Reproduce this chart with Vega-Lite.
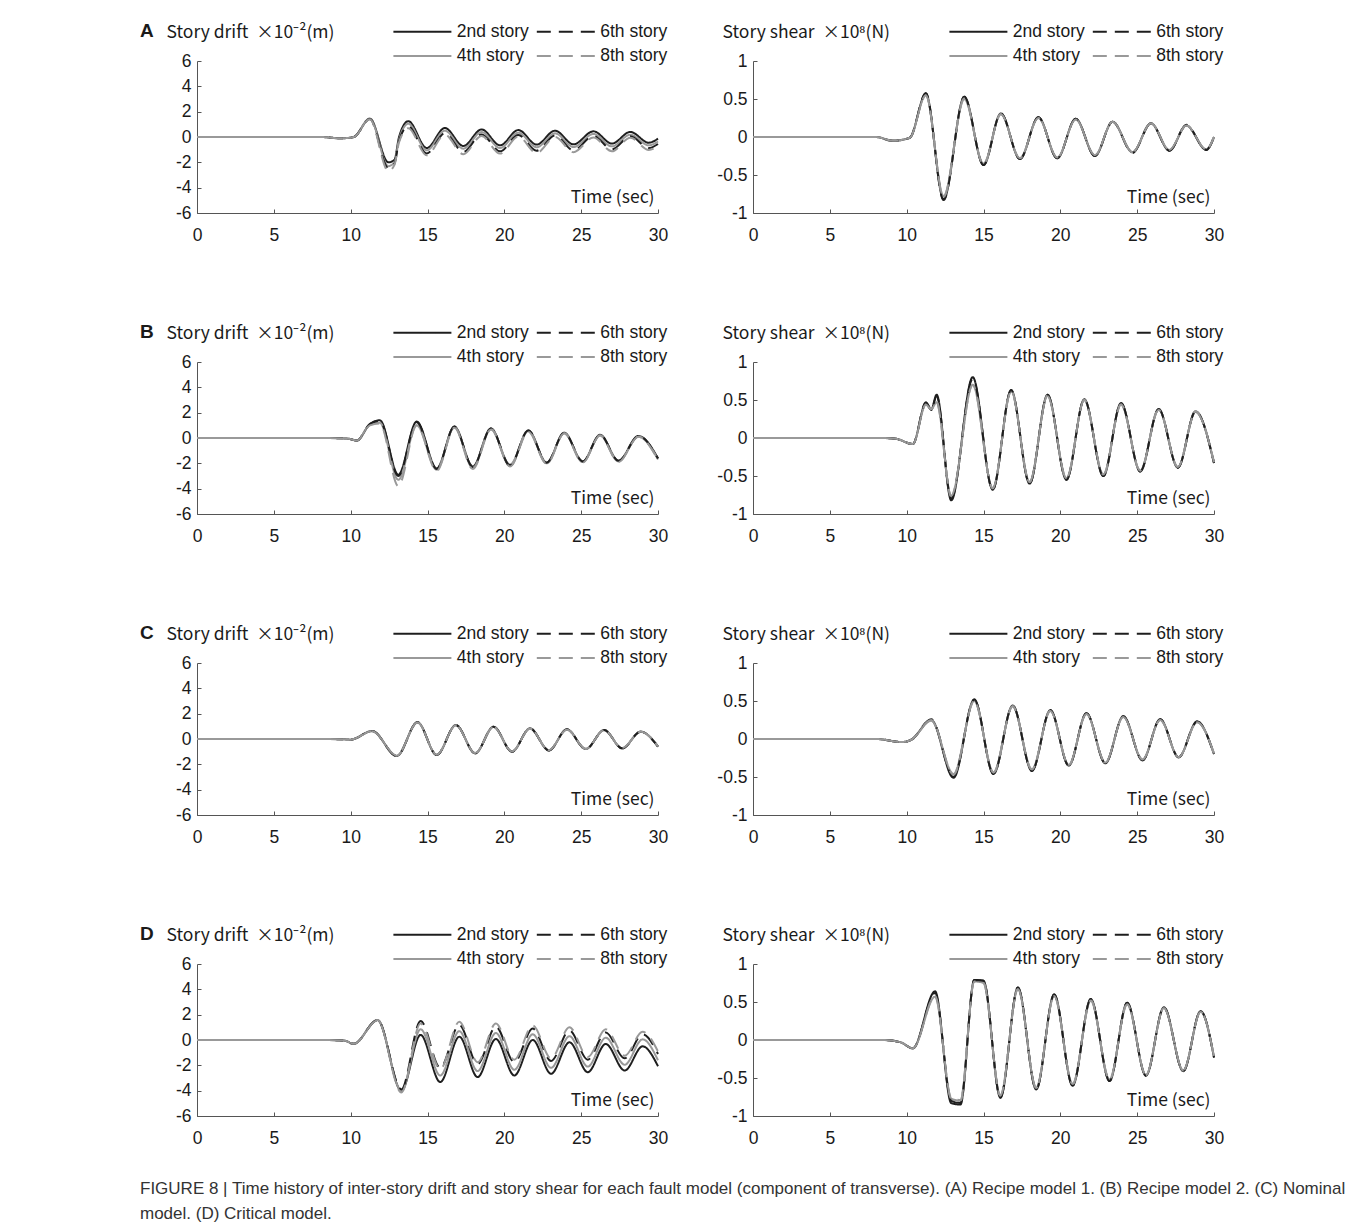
{
  "$schema": "https://vega.github.io/schema/vega-lite/v6.json",
  "background": "white",
  "autosize": {"type": "pad"},
  "padding": {"left": 140, "top": 18, "right": 4, "bottom": 4},
  "title": {
    "text": ["FIGURE 8 | Time history of inter-story drift and story shear for each fault model (component of transverse). (A) Recipe model 1. (B) Recipe model 2. (C) Nominal", "model. (D) Critical model."],
    "orient": "bottom", "anchor": "start", "frame": "bounds", "dx": 0, "dy": 0, "offset": 34,
    "font": "Liberation Sans", "fontSize": 17, "fontWeight": "normal", "color": "#333333", "lineHeight": 25, "baseline": "top"
  },
  "datasets": {
    "A1": [
      {"t":0,"2nd story":0,"4th story":0,"6th story":0,"8th story":0},
      {"t":5,"2nd story":0,"4th story":0,"6th story":0,"8th story":0},
      {"t":8,"2nd story":0,"4th story":0,"6th story":0,"8th story":0},
      {"t":9.4,"2nd story":-0.1,"4th story":-0.1,"6th story":-0.1,"8th story":-0.1},
      {"t":10.2,"2nd story":0,"4th story":0,"6th story":0,"8th story":0},
      {"t":11.25,"2nd story":1.45,"4th story":1.45,"6th story":1.42,"8th story":1.4},
      {"t":12.45,"2nd story":-2.0,"4th story":-2.3,"6th story":-2.45,"8th story":-2.7},
      {"t":12.85,"2nd story":-1.8,"4th story":-2.0,"6th story":-2.1,"8th story":-2.2},
      {"t":13.15,"2nd story":0,"4th story":-0.2,"6th story":-0.3,"8th story":-0.4},
      {"t":13.75,"2nd story":1.25,"4th story":1.05,"6th story":0.85,"8th story":0.7},
      {"t":14.95,"2nd story":-0.87,"4th story":-1.05,"6th story":-1.3,"8th story":-1.45},
      {"t":16.13,"2nd story":0.71,"4th story":0.5,"6th story":0.3,"8th story":0.18},
      {"t":17.33,"2nd story":-0.71,"4th story":-0.92,"6th story":-1.18,"8th story":-1.36},
      {"t":18.52,"2nd story":0.6,"4th story":0.39,"6th story":0.2,"8th story":0.08},
      {"t":19.72,"2nd story":-0.66,"4th story":-0.87,"6th story":-1.13,"8th story":-1.31},
      {"t":20.91,"2nd story":0.55,"4th story":0.34,"6th story":0.16,"8th story":0.03},
      {"t":22.1,"2nd story":-0.6,"4th story":-0.81,"6th story":-1.08,"8th story":-1.26},
      {"t":23.3,"2nd story":0.5,"4th story":0.29,"6th story":0.13,"8th story":0.0},
      {"t":24.5,"2nd story":-0.58,"4th story":-0.79,"6th story":-1.05,"8th story":-1.2},
      {"t":25.8,"2nd story":0.45,"4th story":0.24,"6th story":0.08,"8th story":-0.03},
      {"t":27.0,"2nd story":-0.52,"4th story":-0.74,"6th story":-0.97,"8th story":-1.13},
      {"t":28.2,"2nd story":0.4,"4th story":0.18,"6th story":0.05,"8th story":-0.05},
      {"t":29.4,"2nd story":-0.45,"4th story":-0.66,"6th story":-0.87,"8th story":-1.02},
      {"t":30,"2nd story":-0.13,"4th story":-0.35,"6th story":-0.55,"8th story":-0.7}
    ],
    "A2": [
      {"t":0,"2nd story":0,"4th story":0,"6th story":0,"8th story":0},
      {"t":5,"2nd story":0,"4th story":0,"6th story":0,"8th story":0},
      {"t":8,"2nd story":0,"4th story":0,"6th story":0,"8th story":0},
      {"t":9.1,"2nd story":-0.05,"4th story":-0.05,"6th story":-0.05,"8th story":-0.05},
      {"t":10.2,"2nd story":-0.01,"4th story":-0.01,"6th story":-0.01,"8th story":-0.01},
      {"t":11.25,"2nd story":0.57,"4th story":0.55,"6th story":0.58,"8th story":0.55},
      {"t":12.4,"2nd story":-0.82,"4th story":-0.78,"6th story":-0.83,"8th story":-0.79},
      {"t":13.75,"2nd story":0.53,"4th story":0.5,"6th story":0.53,"8th story":0.51},
      {"t":15.0,"2nd story":-0.37,"4th story":-0.35,"6th story":-0.37,"8th story":-0.36},
      {"t":16.13,"2nd story":0.31,"4th story":0.3,"6th story":0.31,"8th story":0.3},
      {"t":17.37,"2nd story":-0.29,"4th story":-0.28,"6th story":-0.29,"8th story":-0.28},
      {"t":18.57,"2nd story":0.26,"4th story":0.25,"6th story":0.26,"8th story":0.25},
      {"t":19.8,"2nd story":-0.28,"4th story":-0.27,"6th story":-0.28,"8th story":-0.27},
      {"t":21.0,"2nd story":0.24,"4th story":0.23,"6th story":0.24,"8th story":0.23},
      {"t":22.25,"2nd story":-0.25,"4th story":-0.24,"6th story":-0.25,"8th story":-0.24},
      {"t":23.4,"2nd story":0.2,"4th story":0.2,"6th story":0.2,"8th story":0.2},
      {"t":24.7,"2nd story":-0.2,"4th story":-0.2,"6th story":-0.21,"8th story":-0.2},
      {"t":25.9,"2nd story":0.18,"4th story":0.18,"6th story":0.18,"8th story":0.18},
      {"t":27.1,"2nd story":-0.18,"4th story":-0.17,"6th story":-0.18,"8th story":-0.17},
      {"t":28.2,"2nd story":0.15,"4th story":0.15,"6th story":0.16,"8th story":0.15},
      {"t":29.5,"2nd story":-0.17,"4th story":-0.16,"6th story":-0.17,"8th story":-0.16},
      {"t":30,"2nd story":0,"4th story":0,"6th story":0,"8th story":0}
    ],
    "B1": [
      {"t":0,"2nd story":0,"4th story":0,"6th story":0,"8th story":0},
      {"t":5,"2nd story":0,"4th story":0,"6th story":0,"8th story":0},
      {"t":8.5,"2nd story":0,"4th story":0,"6th story":0,"8th story":0},
      {"t":9.8,"2nd story":-0.05,"4th story":-0.05,"6th story":-0.05,"8th story":-0.05},
      {"t":10.4,"2nd story":-0.2,"4th story":-0.2,"6th story":-0.2,"8th story":-0.2},
      {"t":11.25,"2nd story":1.1,"4th story":1.05,"6th story":1.1,"8th story":1.0},
      {"t":11.9,"2nd story":1.4,"4th story":1.2,"6th story":1.35,"8th story":1.15},
      {"t":13.1,"2nd story":-2.9,"4th story":-3.3,"6th story":-3.0,"8th story":-3.8},
      {"t":14.3,"2nd story":1.3,"4th story":1.0,"6th story":1.25,"8th story":1.0},
      {"t":15.6,"2nd story":-2.4,"4th story":-2.5,"6th story":-2.45,"8th story":-2.6},
      {"t":16.75,"2nd story":0.9,"4th story":0.85,"6th story":0.9,"8th story":0.8},
      {"t":17.95,"2nd story":-2.25,"4th story":-2.35,"6th story":-2.3,"8th story":-2.45},
      {"t":19.13,"2nd story":0.76,"4th story":0.7,"6th story":0.75,"8th story":0.68},
      {"t":20.37,"2nd story":-2.2,"4th story":-2.1,"6th story":-2.15,"8th story":-2.25},
      {"t":21.56,"2nd story":0.6,"4th story":0.55,"6th story":0.6,"8th story":0.5},
      {"t":22.76,"2nd story":-1.95,"4th story":-2.0,"6th story":-1.95,"8th story":-2.05},
      {"t":23.9,"2nd story":0.42,"4th story":0.38,"6th story":0.42,"8th story":0.36},
      {"t":25.1,"2nd story":-1.86,"4th story":-1.9,"6th story":-1.85,"8th story":-1.95},
      {"t":26.23,"2nd story":0.25,"4th story":0.2,"6th story":0.25,"8th story":0.2},
      {"t":27.43,"2nd story":-1.8,"4th story":-1.85,"6th story":-1.8,"8th story":-1.9},
      {"t":28.73,"2nd story":0.16,"4th story":0.1,"6th story":0.15,"8th story":0.1},
      {"t":30,"2nd story":-1.6,"4th story":-1.7,"6th story":-1.62,"8th story":-1.72}
    ],
    "B2": [
      {"t":0,"2nd story":0,"4th story":0,"6th story":0,"8th story":0},
      {"t":5,"2nd story":0,"4th story":0,"6th story":0,"8th story":0},
      {"t":8.5,"2nd story":0,"4th story":0,"6th story":0,"8th story":0},
      {"t":9.3,"2nd story":-0.01,"4th story":-0.01,"6th story":-0.01,"8th story":-0.01},
      {"t":10.4,"2nd story":-0.08,"4th story":-0.08,"6th story":-0.08,"8th story":-0.08},
      {"t":11.25,"2nd story":0.46,"4th story":0.44,"6th story":0.47,"8th story":0.44},
      {"t":11.6,"2nd story":0.37,"4th story":0.38,"6th story":0.38,"8th story":0.38},
      {"t":11.95,"2nd story":0.57,"4th story":0.47,"6th story":0.55,"8th story":0.46},
      {"t":12.9,"2nd story":-0.82,"4th story":-0.77,"6th story":-0.8,"8th story":-0.76},
      {"t":14.3,"2nd story":0.8,"4th story":0.7,"6th story":0.78,"8th story":0.7},
      {"t":15.6,"2nd story":-0.68,"4th story":-0.66,"6th story":-0.68,"8th story":-0.66},
      {"t":16.8,"2nd story":0.63,"4th story":0.62,"6th story":0.63,"8th story":0.61},
      {"t":18.0,"2nd story":-0.6,"4th story":-0.58,"6th story":-0.6,"8th story":-0.58},
      {"t":19.17,"2nd story":0.57,"4th story":0.56,"6th story":0.57,"8th story":0.55},
      {"t":20.4,"2nd story":-0.55,"4th story":-0.53,"6th story":-0.55,"8th story":-0.53},
      {"t":21.56,"2nd story":0.51,"4th story":0.5,"6th story":0.51,"8th story":0.5},
      {"t":22.8,"2nd story":-0.5,"4th story":-0.48,"6th story":-0.5,"8th story":-0.48},
      {"t":23.95,"2nd story":0.46,"4th story":0.44,"6th story":0.46,"8th story":0.44},
      {"t":25.2,"2nd story":-0.44,"4th story":-0.43,"6th story":-0.44,"8th story":-0.43},
      {"t":26.4,"2nd story":0.38,"4th story":0.38,"6th story":0.38,"8th story":0.37},
      {"t":27.65,"2nd story":-0.39,"4th story":-0.38,"6th story":-0.39,"8th story":-0.38},
      {"t":28.8,"2nd story":0.35,"4th story":0.35,"6th story":0.35,"8th story":0.34},
      {"t":30,"2nd story":-0.33,"4th story":-0.32,"6th story":-0.33,"8th story":-0.32}
    ],
    "C1": [
      {"t":0,"2nd story":0,"4th story":0,"6th story":0,"8th story":0},
      {"t":5,"2nd story":0,"4th story":0,"6th story":0,"8th story":0},
      {"t":8,"2nd story":0,"4th story":0,"6th story":0,"8th story":0},
      {"t":9.5,"2nd story":-0.02,"4th story":-0.02,"6th story":-0.02,"8th story":-0.02},
      {"t":10.0,"2nd story":-0.05,"4th story":-0.05,"6th story":-0.05,"8th story":-0.05},
      {"t":11.4,"2nd story":0.63,"4th story":0.62,"6th story":0.64,"8th story":0.62},
      {"t":13.0,"2nd story":-1.34,"4th story":-1.32,"6th story":-1.34,"8th story":-1.31},
      {"t":14.35,"2nd story":1.32,"4th story":1.3,"6th story":1.32,"8th story":1.3},
      {"t":15.6,"2nd story":-1.26,"4th story":-1.24,"6th story":-1.26,"8th story":-1.24},
      {"t":16.85,"2nd story":1.1,"4th story":1.08,"6th story":1.1,"8th story":1.08},
      {"t":18.1,"2nd story":-1.13,"4th story":-1.11,"6th story":-1.13,"8th story":-1.11},
      {"t":19.3,"2nd story":0.97,"4th story":0.95,"6th story":0.97,"8th story":0.95},
      {"t":20.5,"2nd story":-1.0,"4th story":-0.98,"6th story":-1.0,"8th story":-0.98},
      {"t":21.67,"2nd story":0.84,"4th story":0.82,"6th story":0.84,"8th story":0.82},
      {"t":22.9,"2nd story":-0.9,"4th story":-0.88,"6th story":-0.9,"8th story":-0.88},
      {"t":24.07,"2nd story":0.76,"4th story":0.74,"6th story":0.76,"8th story":0.74},
      {"t":25.3,"2nd story":-0.79,"4th story":-0.77,"6th story":-0.79,"8th story":-0.77},
      {"t":26.5,"2nd story":0.71,"4th story":0.69,"6th story":0.71,"8th story":0.69},
      {"t":27.67,"2nd story":-0.74,"4th story":-0.72,"6th story":-0.74,"8th story":-0.72},
      {"t":28.87,"2nd story":0.58,"4th story":0.57,"6th story":0.58,"8th story":0.57},
      {"t":30,"2nd story":-0.6,"4th story":-0.58,"6th story":-0.6,"8th story":-0.58}
    ],
    "C2": [
      {"t":0,"2nd story":0,"4th story":0,"6th story":0,"8th story":0},
      {"t":5,"2nd story":0,"4th story":0,"6th story":0,"8th story":0},
      {"t":8,"2nd story":0,"4th story":0,"6th story":0,"8th story":0},
      {"t":9.7,"2nd story":-0.04,"4th story":-0.04,"6th story":-0.04,"8th story":-0.04},
      {"t":10.3,"2nd story":-0.01,"4th story":-0.01,"6th story":-0.01,"8th story":-0.01},
      {"t":11.6,"2nd story":0.25,"4th story":0.24,"6th story":0.26,"8th story":0.25},
      {"t":13.05,"2nd story":-0.51,"4th story":-0.46,"6th story":-0.5,"8th story":-0.47},
      {"t":14.4,"2nd story":0.52,"4th story":0.5,"6th story":0.52,"8th story":0.5},
      {"t":15.65,"2nd story":-0.46,"4th story":-0.44,"6th story":-0.46,"8th story":-0.44},
      {"t":16.9,"2nd story":0.44,"4th story":0.43,"6th story":0.44,"8th story":0.43},
      {"t":18.15,"2nd story":-0.42,"4th story":-0.4,"6th story":-0.42,"8th story":-0.4},
      {"t":19.35,"2nd story":0.38,"4th story":0.37,"6th story":0.38,"8th story":0.37},
      {"t":20.55,"2nd story":-0.35,"4th story":-0.34,"6th story":-0.35,"8th story":-0.34},
      {"t":21.7,"2nd story":0.34,"4th story":0.33,"6th story":0.34,"8th story":0.33},
      {"t":22.93,"2nd story":-0.32,"4th story":-0.31,"6th story":-0.32,"8th story":-0.31},
      {"t":24.1,"2nd story":0.3,"4th story":0.29,"6th story":0.3,"8th story":0.29},
      {"t":25.35,"2nd story":-0.28,"4th story":-0.27,"6th story":-0.28,"8th story":-0.27},
      {"t":26.5,"2nd story":0.26,"4th story":0.25,"6th story":0.26,"8th story":0.25},
      {"t":27.7,"2nd story":-0.24,"4th story":-0.24,"6th story":-0.24,"8th story":-0.24},
      {"t":28.9,"2nd story":0.23,"4th story":0.22,"6th story":0.23,"8th story":0.22},
      {"t":30,"2nd story":-0.2,"4th story":-0.19,"6th story":-0.2,"8th story":-0.19}
    ],
    "D1": [
      {"t":0,"2nd story":0,"4th story":0,"6th story":0,"8th story":0},
      {"t":5,"2nd story":0,"4th story":0,"6th story":0,"8th story":0},
      {"t":8.5,"2nd story":0,"4th story":0,"6th story":0,"8th story":0},
      {"t":9.6,"2nd story":-0.05,"4th story":-0.05,"6th story":-0.05,"8th story":-0.05},
      {"t":10.2,"2nd story":-0.3,"4th story":-0.3,"6th story":-0.3,"8th story":-0.3},
      {"t":11.75,"2nd story":1.57,"4th story":1.57,"6th story":1.57,"8th story":1.55},
      {"t":13.3,"2nd story":-4.0,"4th story":-4.0,"6th story":-3.9,"8th story":-4.15},
      {"t":14.55,"2nd story":0.4,"4th story":0.85,"6th story":1.5,"8th story":1.3},
      {"t":15.83,"2nd story":-3.32,"4th story":-2.8,"6th story":-2.2,"8th story":-2.3},
      {"t":17.07,"2nd story":0.26,"4th story":0.7,"6th story":1.2,"8th story":1.45},
      {"t":18.26,"2nd story":-2.93,"4th story":-2.45,"6th story":-1.9,"8th story":-1.75},
      {"t":19.45,"2nd story":0.08,"4th story":0.55,"6th story":1.05,"8th story":1.3},
      {"t":20.65,"2nd story":-2.8,"4th story":-2.35,"6th story":-1.75,"8th story":-1.55},
      {"t":21.85,"2nd story":0.0,"4th story":0.45,"6th story":0.9,"8th story":1.15},
      {"t":23.04,"2nd story":-2.67,"4th story":-2.2,"6th story":-1.65,"8th story":-1.45},
      {"t":24.24,"2nd story":-0.18,"4th story":0.3,"6th story":0.75,"8th story":1.0},
      {"t":25.43,"2nd story":-2.54,"4th story":-2.1,"6th story":-1.55,"8th story":-1.35},
      {"t":26.6,"2nd story":-0.31,"4th story":0.18,"6th story":0.6,"8th story":0.85},
      {"t":27.83,"2nd story":-2.41,"4th story":-1.95,"6th story":-1.45,"8th story":-1.25},
      {"t":29.0,"2nd story":-0.5,"4th story":0.05,"6th story":0.45,"8th story":0.65},
      {"t":30,"2nd story":-2.07,"4th story":-1.6,"6th story":-1.1,"8th story":-0.9}
    ],
    "D2": [
      {"t":0,"2nd story":0,"4th story":0,"6th story":0,"8th story":0},
      {"t":5,"2nd story":0,"4th story":0,"6th story":0,"8th story":0},
      {"t":8.5,"2nd story":0,"4th story":0,"6th story":0,"8th story":0},
      {"t":9.6,"2nd story":-0.03,"4th story":-0.03,"6th story":-0.03,"8th story":-0.03},
      {"t":10.4,"2nd story":-0.11,"4th story":-0.11,"6th story":-0.11,"8th story":-0.11},
      {"t":11.85,"2nd story":0.64,"4th story":0.57,"6th story":0.62,"8th story":0.58},
      {"t":12.9,"2nd story":-0.83,"4th story":-0.77,"6th story":-0.8,"8th story":-0.76},
      {"t":13.5,"2nd story":-0.85,"4th story":-0.8,"6th story":-0.83,"8th story":-0.79},
      {"t":14.4,"2nd story":0.79,"4th story":0.77,"6th story":0.79,"8th story":0.77},
      {"t":15.0,"2nd story":0.78,"4th story":0.75,"6th story":0.78,"8th story":0.75},
      {"t":16.1,"2nd story":-0.76,"4th story":-0.73,"6th story":-0.76,"8th story":-0.73},
      {"t":17.24,"2nd story":0.69,"4th story":0.67,"6th story":0.69,"8th story":0.67},
      {"t":18.43,"2nd story":-0.65,"4th story":-0.63,"6th story":-0.65,"8th story":-0.63},
      {"t":19.6,"2nd story":0.6,"4th story":0.58,"6th story":0.6,"8th story":0.58},
      {"t":20.8,"2nd story":-0.6,"4th story":-0.58,"6th story":-0.6,"8th story":-0.58},
      {"t":21.98,"2nd story":0.54,"4th story":0.52,"6th story":0.54,"8th story":0.52},
      {"t":23.2,"2nd story":-0.54,"4th story":-0.52,"6th story":-0.54,"8th story":-0.52},
      {"t":24.35,"2nd story":0.49,"4th story":0.47,"6th story":0.49,"8th story":0.47},
      {"t":25.57,"2nd story":-0.47,"4th story":-0.46,"6th story":-0.47,"8th story":-0.46},
      {"t":26.74,"2nd story":0.43,"4th story":0.42,"6th story":0.43,"8th story":0.42},
      {"t":28.0,"2nd story":-0.41,"4th story":-0.4,"6th story":-0.41,"8th story":-0.4},
      {"t":29.13,"2nd story":0.38,"4th story":0.37,"6th story":0.38,"8th story":0.37},
      {"t":30,"2nd story":-0.23,"4th story":-0.22,"6th story":-0.23,"8th story":-0.22}
    ]
  },
  "spacing": 301,
  "bounds": "flush",
  "resolve": {"scale": {"x": "independent", "y": "independent", "color": "independent", "strokeDash": "independent"}, "legend": {"color": "independent", "strokeDash": "independent"}, "axis": {"x": "independent", "y": "independent"}},
  "vconcat": [
    {"hconcat": [
      {"width":461,"height":152,"data":{"name":"A1"},"title":"A",
       "transform":[{"fold":["2nd story","4th story","6th story","8th story"],"as":["series","v"]}],
       "mark":{"type":"line","interpolate":"monotone","strokeWidth":2},
       "encoding":{
        "x":{"field":"t","type":"quantitative","scale":{"domain":[0,30],"nice":false,"zero":false},"axis":{"values":[0,5,10,15,20,25,30],"title":"Time (sec)"}},
        "y":{"field":"v","type":"quantitative","scale":{"domain":[-6,6],"nice":false},"axis":{"values":[-6,-4,-2,0,2,4,6],"format":"~g","title":"Story drift\u00a0 ×10⁻²(m)","labelExpr":"replace(datum.label, '\u2212', '-')"}},
        "color":{"field":"series","type":"nominal","scale":{"domain":["2nd story","4th story","6th story","8th story"],"range":["#1e1e1e","#999999","#1e1e1e","#999999"]},"legend":{"orient":"none","legendX":212.4,"legendY":-42.6,"title":null}},
        "strokeDash":{"field":"series","type":"nominal","scale":{"domain":["2nd story","4th story","6th story","8th story"],"range":[[1,0],[1,0],[14,8],[14,8]]},"legend":{"orient":"none","legendX":212.4,"legendY":-42.6,"title":null}}
       }},
      {"width":461,"height":152,"data":{"name":"A2"},
       "transform":[{"fold":["2nd story","4th story","6th story","8th story"],"as":["series","v"]}],
       "mark":{"type":"line","interpolate":"monotone","strokeWidth":2},
       "encoding":{
        "x":{"field":"t","type":"quantitative","scale":{"domain":[0,30],"nice":false,"zero":false},"axis":{"values":[0,5,10,15,20,25,30],"title":"Time (sec)"}},
        "y":{"field":"v","type":"quantitative","scale":{"domain":[-1,1],"nice":false},"axis":{"values":[-1,-0.5,0,0.5,1],"format":"~g","title":"Story shear\u00a0 ×10⁸(N)","labelExpr":"replace(datum.label, '\u2212', '-')"}},
        "color":{"field":"series","type":"nominal","scale":{"domain":["2nd story","4th story","6th story","8th story"],"range":["#1e1e1e","#999999","#1e1e1e","#999999"]},"legend":{"orient":"none","legendX":212.4,"legendY":-42.6,"title":null}},
        "strokeDash":{"field":"series","type":"nominal","scale":{"domain":["2nd story","4th story","6th story","8th story"],"range":[[1,0],[1,0],[14,8],[14,8]]},"legend":{"orient":"none","legendX":212.4,"legendY":-42.6,"title":null}}
       }}
    ], "spacing": 95, "bounds": "flush",
    "resolve": {"scale": {"x": "independent", "y": "independent", "color": "independent", "strokeDash": "independent"}, "legend": {"color": "independent", "strokeDash": "independent"}, "axis": {"x": "independent", "y": "independent"}}},
    {"hconcat": [
      {"width":461,"height":152,"data":{"name":"B1"},"title":"B",
       "transform":[{"fold":["2nd story","4th story","6th story","8th story"],"as":["series","v"]}],
       "mark":{"type":"line","interpolate":"monotone","strokeWidth":2},
       "encoding":{
        "x":{"field":"t","type":"quantitative","scale":{"domain":[0,30],"nice":false,"zero":false},"axis":{"values":[0,5,10,15,20,25,30],"title":"Time (sec)"}},
        "y":{"field":"v","type":"quantitative","scale":{"domain":[-6,6],"nice":false},"axis":{"values":[-6,-4,-2,0,2,4,6],"format":"~g","title":"Story drift\u00a0 ×10⁻²(m)","labelExpr":"replace(datum.label, '\u2212', '-')"}},
        "color":{"field":"series","type":"nominal","scale":{"domain":["2nd story","4th story","6th story","8th story"],"range":["#1e1e1e","#999999","#1e1e1e","#999999"]},"legend":{"orient":"none","legendX":212.4,"legendY":-42.6,"title":null}},
        "strokeDash":{"field":"series","type":"nominal","scale":{"domain":["2nd story","4th story","6th story","8th story"],"range":[[1,0],[1,0],[14,8],[14,8]]},"legend":{"orient":"none","legendX":212.4,"legendY":-42.6,"title":null}}
       }},
      {"width":461,"height":152,"data":{"name":"B2"},
       "transform":[{"fold":["2nd story","4th story","6th story","8th story"],"as":["series","v"]}],
       "mark":{"type":"line","interpolate":"monotone","strokeWidth":2},
       "encoding":{
        "x":{"field":"t","type":"quantitative","scale":{"domain":[0,30],"nice":false,"zero":false},"axis":{"values":[0,5,10,15,20,25,30],"title":"Time (sec)"}},
        "y":{"field":"v","type":"quantitative","scale":{"domain":[-1,1],"nice":false},"axis":{"values":[-1,-0.5,0,0.5,1],"format":"~g","title":"Story shear\u00a0 ×10⁸(N)","labelExpr":"replace(datum.label, '\u2212', '-')"}},
        "color":{"field":"series","type":"nominal","scale":{"domain":["2nd story","4th story","6th story","8th story"],"range":["#1e1e1e","#999999","#1e1e1e","#999999"]},"legend":{"orient":"none","legendX":212.4,"legendY":-42.6,"title":null}},
        "strokeDash":{"field":"series","type":"nominal","scale":{"domain":["2nd story","4th story","6th story","8th story"],"range":[[1,0],[1,0],[14,8],[14,8]]},"legend":{"orient":"none","legendX":212.4,"legendY":-42.6,"title":null}}
       }}
    ], "spacing": 95, "bounds": "flush",
    "resolve": {"scale": {"x": "independent", "y": "independent", "color": "independent", "strokeDash": "independent"}, "legend": {"color": "independent", "strokeDash": "independent"}, "axis": {"x": "independent", "y": "independent"}}},
    {"hconcat": [
      {"width":461,"height":152,"data":{"name":"C1"},"title":"C",
       "transform":[{"fold":["2nd story","4th story","6th story","8th story"],"as":["series","v"]}],
       "mark":{"type":"line","interpolate":"monotone","strokeWidth":2},
       "encoding":{
        "x":{"field":"t","type":"quantitative","scale":{"domain":[0,30],"nice":false,"zero":false},"axis":{"values":[0,5,10,15,20,25,30],"title":"Time (sec)"}},
        "y":{"field":"v","type":"quantitative","scale":{"domain":[-6,6],"nice":false},"axis":{"values":[-6,-4,-2,0,2,4,6],"format":"~g","title":"Story drift\u00a0 ×10⁻²(m)","labelExpr":"replace(datum.label, '\u2212', '-')"}},
        "color":{"field":"series","type":"nominal","scale":{"domain":["2nd story","4th story","6th story","8th story"],"range":["#1e1e1e","#999999","#1e1e1e","#999999"]},"legend":{"orient":"none","legendX":212.4,"legendY":-42.6,"title":null}},
        "strokeDash":{"field":"series","type":"nominal","scale":{"domain":["2nd story","4th story","6th story","8th story"],"range":[[1,0],[1,0],[14,8],[14,8]]},"legend":{"orient":"none","legendX":212.4,"legendY":-42.6,"title":null}}
       }},
      {"width":461,"height":152,"data":{"name":"C2"},
       "transform":[{"fold":["2nd story","4th story","6th story","8th story"],"as":["series","v"]}],
       "mark":{"type":"line","interpolate":"monotone","strokeWidth":2},
       "encoding":{
        "x":{"field":"t","type":"quantitative","scale":{"domain":[0,30],"nice":false,"zero":false},"axis":{"values":[0,5,10,15,20,25,30],"title":"Time (sec)"}},
        "y":{"field":"v","type":"quantitative","scale":{"domain":[-1,1],"nice":false},"axis":{"values":[-1,-0.5,0,0.5,1],"format":"~g","title":"Story shear\u00a0 ×10⁸(N)","labelExpr":"replace(datum.label, '\u2212', '-')"}},
        "color":{"field":"series","type":"nominal","scale":{"domain":["2nd story","4th story","6th story","8th story"],"range":["#1e1e1e","#999999","#1e1e1e","#999999"]},"legend":{"orient":"none","legendX":212.4,"legendY":-42.6,"title":null}},
        "strokeDash":{"field":"series","type":"nominal","scale":{"domain":["2nd story","4th story","6th story","8th story"],"range":[[1,0],[1,0],[14,8],[14,8]]},"legend":{"orient":"none","legendX":212.4,"legendY":-42.6,"title":null}}
       }}
    ], "spacing": 95, "bounds": "flush",
    "resolve": {"scale": {"x": "independent", "y": "independent", "color": "independent", "strokeDash": "independent"}, "legend": {"color": "independent", "strokeDash": "independent"}, "axis": {"x": "independent", "y": "independent"}}},
    {"hconcat": [
      {"width":461,"height":152,"data":{"name":"D1"},"title":"D",
       "transform":[{"fold":["2nd story","4th story","6th story","8th story"],"as":["series","v"]}],
       "mark":{"type":"line","interpolate":"monotone","strokeWidth":2},
       "encoding":{
        "x":{"field":"t","type":"quantitative","scale":{"domain":[0,30],"nice":false,"zero":false},"axis":{"values":[0,5,10,15,20,25,30],"title":"Time (sec)"}},
        "y":{"field":"v","type":"quantitative","scale":{"domain":[-6,6],"nice":false},"axis":{"values":[-6,-4,-2,0,2,4,6],"format":"~g","title":"Story drift\u00a0 ×10⁻²(m)","labelExpr":"replace(datum.label, '\u2212', '-')"}},
        "color":{"field":"series","type":"nominal","scale":{"domain":["2nd story","4th story","6th story","8th story"],"range":["#1e1e1e","#999999","#1e1e1e","#999999"]},"legend":{"orient":"none","legendX":212.4,"legendY":-42.6,"title":null}},
        "strokeDash":{"field":"series","type":"nominal","scale":{"domain":["2nd story","4th story","6th story","8th story"],"range":[[1,0],[1,0],[14,8],[14,8]]},"legend":{"orient":"none","legendX":212.4,"legendY":-42.6,"title":null}}
       }},
      {"width":461,"height":152,"data":{"name":"D2"},
       "transform":[{"fold":["2nd story","4th story","6th story","8th story"],"as":["series","v"]}],
       "mark":{"type":"line","interpolate":"monotone","strokeWidth":2},
       "encoding":{
        "x":{"field":"t","type":"quantitative","scale":{"domain":[0,30],"nice":false,"zero":false},"axis":{"values":[0,5,10,15,20,25,30],"title":"Time (sec)"}},
        "y":{"field":"v","type":"quantitative","scale":{"domain":[-1,1],"nice":false},"axis":{"values":[-1,-0.5,0,0.5,1],"format":"~g","title":"Story shear\u00a0 ×10⁸(N)","labelExpr":"replace(datum.label, '\u2212', '-')"}},
        "color":{"field":"series","type":"nominal","scale":{"domain":["2nd story","4th story","6th story","8th story"],"range":["#1e1e1e","#999999","#1e1e1e","#999999"]},"legend":{"orient":"none","legendX":212.4,"legendY":-42.6,"title":null}},
        "strokeDash":{"field":"series","type":"nominal","scale":{"domain":["2nd story","4th story","6th story","8th story"],"range":[[1,0],[1,0],[14,8],[14,8]]},"legend":{"orient":"none","legendX":212.4,"legendY":-42.6,"title":null}}
       }}
    ], "spacing": 95, "bounds": "flush",
    "resolve": {"scale": {"x": "independent", "y": "independent", "color": "independent", "strokeDash": "independent"}, "legend": {"color": "independent", "strokeDash": "independent"}, "axis": {"x": "independent", "y": "independent"}}}
  ],
  "config": {
    "view": {"stroke": null},
    "font": "Liberation Sans",
    "axis": {"grid": false, "domainColor": "#555555", "tickColor": "#555555", "domainWidth": 1, "tickWidth": 1, "tickSize": -4,
             "labelFont": "Liberation Sans", "labelFontSize": 17.5, "labelColor": "#1a1a1a",
             "titleFont": "Noto Sans CJK JP", "titleFontWeight": "normal", "titleColor": "#1a1a1a"},
    "axisX": {"labelPadding": 17, "labelFlush": false, "titleFontSize": 17.5, "titleX": 457, "titleY": -11, "titleAlign": "right", "titleBaseline": "alphabetic"},
    "axisY": {"labelPadding": 10, "titleFontSize": 17.5, "titleAngle": 0, "titleX": -31, "titleY": -24, "titleAlign": "left", "titleBaseline": "alphabetic"},
    "legend": {"columns": 2, "symbolType": "M-2.5,0H2.5", "symbolSize": 538, "symbolStrokeWidth": 2, "labelFont": "Liberation Sans", "labelFontSize": 17.5, "labelColor": "#1a1a1a", "labelOffset": 21.4, "columnPadding": 3.4, "rowPadding": 2.5, "padding": 0},
    "title": {"font": "Liberation Sans", "fontSize": 19, "fontWeight": "bold", "anchor": "start", "frame": "group", "dx": -57, "dy": 27, "color": "#1a1a1a"}
  }
}
